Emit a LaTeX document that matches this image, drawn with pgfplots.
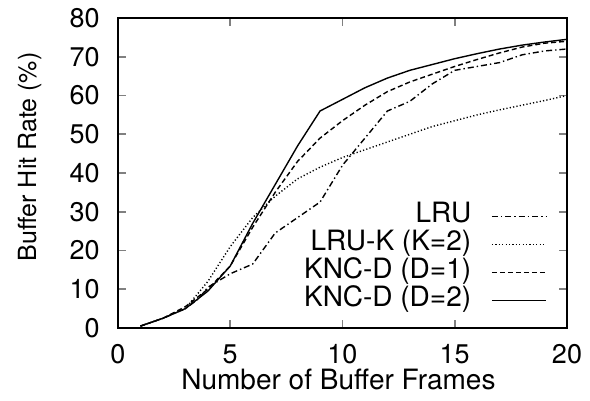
\documentclass[border=0pt]{standalone}
\usepackage{fontspec}
\setmainfont{TeX Gyre Heros}
\usepackage{pgfplots}
\pgfplotsset{compat=1.18}

\begin{document}
\begin{tikzpicture}
\begin{axis}[
    scale only axis, width=224.5pt, height=155pt,
    at={(0,0)}, anchor=south west,
    xmin=0, xmax=20, ymin=0, ymax=80,
    xtick={0,5,10,15,20}, ytick={0,10,...,80},
    axis line style={line width=0.9pt},
    major tick style={line width=0.8pt},
    major tick length=4pt,
    /pgf/number format/assume math mode=true,
    tick label style={font=\fontsize{13.5}{15}\selectfont},
    yticklabel style={anchor=east, inner sep=0pt, xshift=-9pt},
    xticklabel style={anchor=north, inner sep=0pt, yshift=-8pt},
    xlabel={Number of Buffer Frames},
    ylabel={Buffer Hit Rate (\%)},
    xlabel style={font=\fontsize{14}{16}\selectfont, at={(axis description cs:0.491,0)}, anchor=base, yshift=-31pt},
    ylabel style={font=\fontsize{12.5}{15}\selectfont, at={(axis description cs:-0.197,0.552)}, anchor=center},
    legend cell align=right,
    legend plot pos=right,
    legend style={draw=none, fill=none, at={(0.9555,0.406)}, anchor=north east,
        inner sep=0pt, row sep=0pt, font=\fontsize{14}{16}\selectfont,
        nodes={inner sep=0pt, text height=10pt, text depth=4pt},
        /tikz/every odd column/.append style={column sep=10pt}},
    legend image code/.code={\draw[#1] (0pt,0pt) -- (27pt,0pt);},
    every axis plot/.append style={no marks, line width=0.7pt, black},
]
\addplot[dash pattern=on 3pt off 1.5pt on 0.7pt off 1.5pt] coordinates {
    (1,0.5)(2,2.5)(3,5)(3.6,7.6)(4,10.5)(5,14)(6,16.5)(7,24.5)(8,28.5)(9,32.5)
    (10,42)(11,49)(12,56)(13,58.5)(14,63)(15,66.5)(16,67.5)(17,68.5)(18,70.5)(19,71.5)(20,72)};
\addlegendentry{LRU}
\addplot[dash pattern=on 0.6pt off 1.1pt] coordinates {
    (1,0.5)(2,2.5)(3,5)(4,12)(5,21)(6,28.5)(7,34)(8,38.5)(9,41.5)(10,44)
    (11,46)(12,48)(13,50)(14,52)(15,53.5)(16,55)(17,56.3)(18,57.5)(19,58.7)(20,60)};
\addlegendentry{LRU-K (K=2)}
\addplot[dash pattern=on 2.5pt off 1.5pt] coordinates {
    (1,0.5)(2,2.5)(3,5.5)(4,10)(5,16)(6,26)(7,35)(8,43)(9,49)(10,53.5)
    (11,57.5)(12,61)(13,63.5)(14,65.5)(15,67.5)(16,69.3)(17,71)(18,72.5)(19,73.5)(20,74)};
\addlegendentry{KNC-D (D=1)}
\addplot[solid] coordinates {
    (1,0.5)(2,2.5)(3,5)(4,9.5)(5,16)(6,27)(7,37)(8,47)(9,56)(10,59)
    (11,62)(12,64.5)(13,66.5)(14,68)(15,69.5)(16,70.8)(17,72)(18,73)(19,73.8)(20,74.5)};
\addlegendentry{KNC-D (D=2)}
\end{axis}
\pgfresetboundingbox
\path[use as bounding box] (-59pt,-36.5pt) rectangle (236pt,164pt);
\end{tikzpicture}
\end{document}
